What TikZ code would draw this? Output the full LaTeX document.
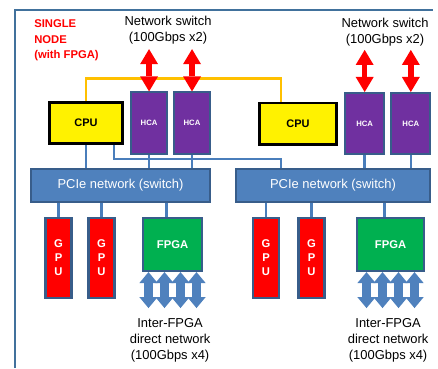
\documentclass[tikz,border=0pt]{standalone}
\usepackage{fontspec}
\setmainfont{Liberation Sans}
\usepackage{tikz}
\usetikzlibrary{positioning,arrows.meta}

\definecolor{cornice}{RGB}{65,113,156}
\definecolor{bordo}{RGB}{56,93,138}
\definecolor{blu}{RGB}{79,129,189}
\definecolor{collegamento}{RGB}{74,126,187}
\definecolor{arancio}{RGB}{255,192,0}
\definecolor{viola}{RGB}{112,48,160}
\definecolor{verde}{RGB}{0,176,80}

\begin{document}
\begin{tikzpicture}[
    box/.style = {draw=bordo, line width=1.4pt, inner sep=0pt, text=white},
    cpu/.style = {draw=black, fill=yellow, line width=2.1pt, inner sep=0pt, minimum width=1.83cm, minimum height=1.03cm, font=\fontsize{7.8}{9}\selectfont\bfseries},
    hca/.style = {box, fill=viola, minimum width=0.9cm, minimum height=1.53cm, font=\fontsize{5.5}{6}\selectfont\bfseries},
    gpu/.style = {box, fill=red, line width=1.8pt, minimum width=0.66cm, minimum height=1.99cm, align=center, font=\fontsize{8}{10}\selectfont\bfseries},
    fpga/.style = {box, fill=verde, minimum height=1.33cm, font=\fontsize{8}{9}\selectfont\bfseries},
    pcie/.style = {box, fill=blu, minimum height=0.83cm, font=\fontsize{9.2}{11}\selectfont},
    testo/.style = {inner sep=0pt, align=center, font=\fontsize{9.2}{11.4}\selectfont},
    link/.style = {draw=collegamento, line width=1.8pt},
    qpi/.style = {draw=arancio, line width=2.1pt},
    rete/.style = {red, line width=3.8pt, {Triangle[width=12.8pt,length=10.7pt,line width=0pt]}-{Triangle[width=12.8pt,length=10.7pt,line width=0pt]}},
    diretta/.style = {blu, line width=6.3pt, {Triangle[width=13pt,length=7.8pt,line width=0pt]}-{Triangle[width=13pt,length=7.8pt,line width=0pt]}}
  ]
  \useasboundingbox (0,0) rectangle (10.95,9.2);

  % cornice del nodo
  \draw[cornice, line width=2.1pt] (0.375,0) |- (10.825,8.95);
  \node[anchor=west, inner sep=0pt, align=left, text=red, font=\fontsize{8}{11}\selectfont\bfseries] (titolo) at (0.85,8.19) {SINGLE\\NODE\\(with FPGA)};

  % Nodi principali
  \node[cpu] (cpuA) at (2.15,6.125) {CPU};
  \node[hca, right=0.15cm of cpuA] (hcaA) {HCA};
  \node[hca, right=0.125cm of hcaA] (hcaB) {HCA};
  \node[cpu, minimum width=1.93cm] (cpuB) at (7.45,6.11) {CPU};
  \node[hca, minimum width=0.98cm, right=0.15cm of cpuB] (hcaC) {HCA};
  \node[hca, minimum width=0.98cm, right=0.125cm of hcaC] (hcaD) {HCA};

  \node[pcie, minimum width=4.48cm] (pcieA) at (3.0125,4.5625) {PCIe network (switch)};
  \node[pcie, minimum width=4.85cm] (pcieB) at (8.325,4.5625) {PCIe network (switch)};

  \node[gpu] (gpuA) at (1.4625,2.75) {G\\P\\U};
  \node[gpu] (gpuB) at (2.5375,2.75) {G\\P\\U};
  \node[fpga, minimum width=1.48cm] (fpgaA) at (4.3125,3.0875) {FPGA};
  \node[gpu] (gpuC) at (6.65,2.75) {G\\P\\U};
  \node[gpu] (gpuD) at (7.7875,2.75) {G\\P\\U};
  \node[fpga, minimum width=1.68cm] (fpgaB) at (9.7625,3.0875) {FPGA};

  % reti esterne
  \node[testo] (netA) at (4.2,8.45) {Network switch\\(100Gbps x2)};
  \node[testo] (netB) at (9.625,8.39) {Network switch\\(100Gbps x2)};
  \node[testo, below=1.15cm of fpgaA, xshift=-0.06cm] (dirA) {Inter-FPGA\\direct network\\(100Gbps x4)};
  \node[testo, below=1.15cm of fpgaB, xshift=-0.06cm] (dirB) {Inter-FPGA\\direct network\\(100Gbps x4)};

  % collegamenti
  \draw[qpi] (cpuA.north) -- ++(0,0.55) -| ([xshift=-0.425cm]cpuB.north);
  \foreach \n in {cpuA,hcaA,hcaB}
    \draw[link] (\n.south) -- (\n.south |- pcieA.north);
  \foreach \n in {hcaC,hcaD}
    \draw[link] (\n.south) -- (\n.south |- pcieB.north);
  \foreach \n in {gpuA,gpuB}
    \draw[link] (\n.north) -- (\n.north |- pcieA.south);
  \foreach \n in {gpuC,gpuD}
    \draw[link] (\n.north) -- (\n.north |- pcieB.south);
  \draw[link] ([xshift=-0.15cm]fpgaA.north) -- ([xshift=-0.15cm]fpgaA.north |- pcieA.south);
  \draw[link] ([xshift=-0.15cm]fpgaB.north) -- ([xshift=-0.15cm]fpgaB.north |- pcieB.south);
  \coordinate (jB) at ([xshift=1.15cm]pcieB.north west);
  \draw[link] ([xshift=-0.25cm]cpuA.south east) |- ([yshift=0.225cm]jB) -- (jB);

  \foreach \n in {hcaA,hcaB}
    \draw[rete] (\n.north) -- ([yshift=-0.12cm]\n.north |- netA.south);
  \foreach \n in {hcaC,hcaD}
    \draw[rete] (\n.north) -- ([yshift=-0.08cm]\n.north |- netB.south);
  \foreach \n in {fpgaA,fpgaB}
    \foreach \dx in {-0.6,-0.2,0.2,0.6}
      \draw[diretta] ([xshift=\dx cm]\n.south) -- ++(0,-0.9);
\end{tikzpicture}
\end{document}
